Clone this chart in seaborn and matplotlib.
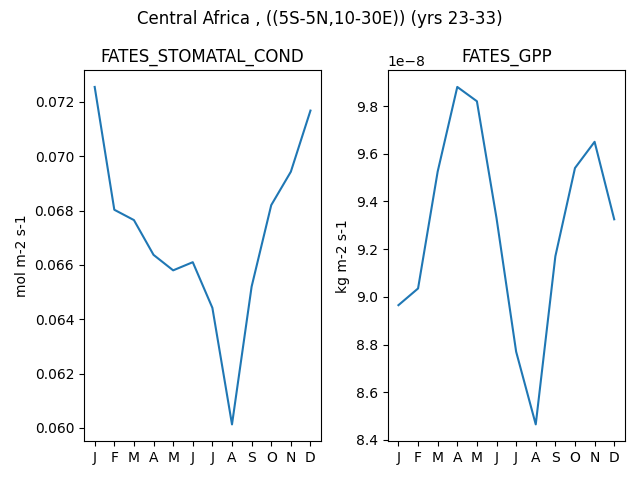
import seaborn as sns
import matplotlib.pyplot as plt
import pandas as pd

months = ["J", "F", "M", "A", "M", "J", "J", "A", "S", "O", "N", "D"]
stomatal_cond = [0.07255, 0.06803, 0.06765, 0.06637, 0.06580, 0.06610,
                 0.06442, 0.06013, 0.06520, 0.06820, 0.06943, 0.07168]
gpp = [8.965e-8, 9.035e-8, 9.525e-8, 9.88e-8, 9.82e-8, 9.33e-8,
       8.77e-8, 8.465e-8, 9.17e-8, 9.54e-8, 9.65e-8, 9.325e-8]

df = pd.DataFrame({"month": range(12), "cond": stomatal_cond, "gpp": gpp})

fig, axes = plt.subplots(1, 2, figsize=(6.4, 4.8))

sns.lineplot(x="month", y="cond", data=df, ax=axes[0])
axes[0].set_title("FATES_STOMATAL_COND")
axes[0].set_ylabel("mol m-2 s-1")

sns.lineplot(x="month", y="gpp", data=df, ax=axes[1])
axes[1].set_title("FATES_GPP")
axes[1].set_ylabel("kg m-2 s-1")

for ax in axes:
    ax.set_xticks(range(12))
    ax.set_xticklabels(months)
    ax.set_xlabel("")

fig.suptitle("Central Africa , ((5S-5N,10-30E)) (yrs 23-33)")
fig.tight_layout()
fig.savefig("out.png", dpi=100)
